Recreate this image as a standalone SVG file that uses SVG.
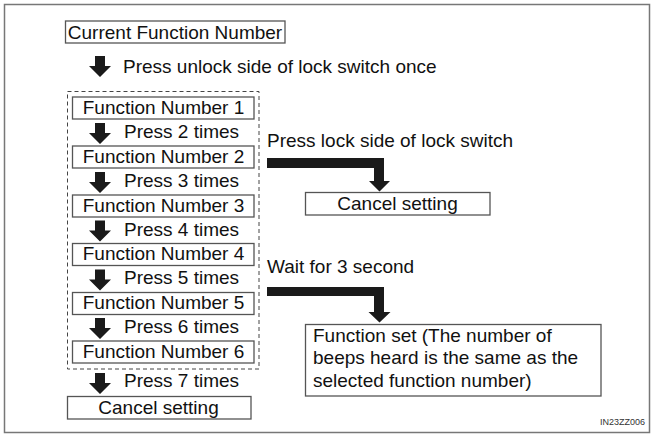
<svg xmlns="http://www.w3.org/2000/svg" width="654" height="440" viewBox="0 0 654 440">
<style>
text{font-family:"Liberation Sans",Arial,sans-serif;font-size:19px;fill:#111}
.box{fill:#fff;stroke:#555;stroke-width:1.3}
.c{text-anchor:middle}
.arr{fill:#1a1a1a}
</style>
<defs>
<path id="dn" d="M-5,0 H5 V10 H11 L0,21 L-11,10 H-5 Z"/>
</defs>
<rect x="0" y="0" width="654" height="440" fill="#fff"/>
<rect x="4.5" y="4.5" width="645" height="428" fill="none" stroke="#777" stroke-width="1.5"/>
<rect id="group-box" x="67.5" y="91.5" width="191.5" height="277.5" fill="none" stroke="#444" stroke-width="1" stroke-dasharray="4,3"/>

<g id="current"><rect class="box" x="65.5" y="21" width="219.5" height="22"/><text class="c" x="175" y="39">Current Function Number</text></g>
<g id="fn1"><rect class="box" x="72.5" y="97" width="181.5" height="22"/><text class="c" x="163.5" y="113.5">Function Number 1</text></g>
<g id="fn2"><rect class="box" x="72.5" y="146" width="181.5" height="22"/><text class="c" x="163.5" y="162.5">Function Number 2</text></g>
<g id="fn3"><rect class="box" x="72.5" y="195" width="181.5" height="22"/><text class="c" x="163.5" y="211.5">Function Number 3</text></g>
<g id="fn4"><rect class="box" x="72.5" y="243.5" width="181.5" height="22"/><text class="c" x="163.5" y="260">Function Number 4</text></g>
<g id="fn5"><rect class="box" x="72.5" y="292.5" width="181.5" height="22"/><text class="c" x="163.5" y="309">Function Number 5</text></g>
<g id="fn6"><rect class="box" x="72.5" y="341" width="181.5" height="22"/><text class="c" x="163.5" y="357.5">Function Number 6</text></g>
<g id="cancel1"><rect class="box" x="67.5" y="396.5" width="183.5" height="22.5"/><text class="c" x="158.5" y="413.5">Cancel setting</text></g>
<g id="cancel2"><rect class="box" x="305.5" y="192.5" width="184.5" height="22.5"/><text class="c" x="397.5" y="209.5">Cancel setting</text></g>
<g id="fset"><rect class="box" x="305.5" y="324.5" width="295.5" height="71.5"/>
<text x="313" y="342">Function set (The number of</text>
<text x="313" y="364">beeps heard is the same as the</text>
<text x="313" y="386.5">selected function number)</text></g>

<g id="connectors">
<use href="#dn" class="arr" transform="translate(100,56)"/>
<text x="123" y="73">Press unlock side of lock switch once</text>
<use href="#dn" class="arr" transform="translate(100,123)"/>
<text x="124" y="138">Press 2 times</text>
<use href="#dn" class="arr" transform="translate(100,172)"/>
<text x="124" y="187">Press 3 times</text>
<use href="#dn" class="arr" transform="translate(100,220.5)"/>
<text x="124" y="235.5">Press 4 times</text>
<use href="#dn" class="arr" transform="translate(100,269.5)"/>
<text x="124" y="284">Press 5 times</text>
<use href="#dn" class="arr" transform="translate(100,318)"/>
<text x="124" y="333">Press 6 times</text>
<use href="#dn" class="arr" transform="translate(100,373)"/>
<text x="124" y="387">Press 7 times</text>
<path class="arr" d="M267,158 H384 V181 H390 L379.5,191.5 L369,181 H374 V168 H267 Z"/>
<text x="267" y="147">Press lock side of lock switch</text>
<path class="arr" d="M267,287 H384 V312 H390.5 L379.5,322.5 L368.5,312 H374 V296 H267 Z"/>
<text x="267" y="273">Wait for 3 second</text>
</g>
<text x="645" y="425" style="font-size:9px;text-anchor:end;fill:#333">IN23ZZ006</text>
</svg>
